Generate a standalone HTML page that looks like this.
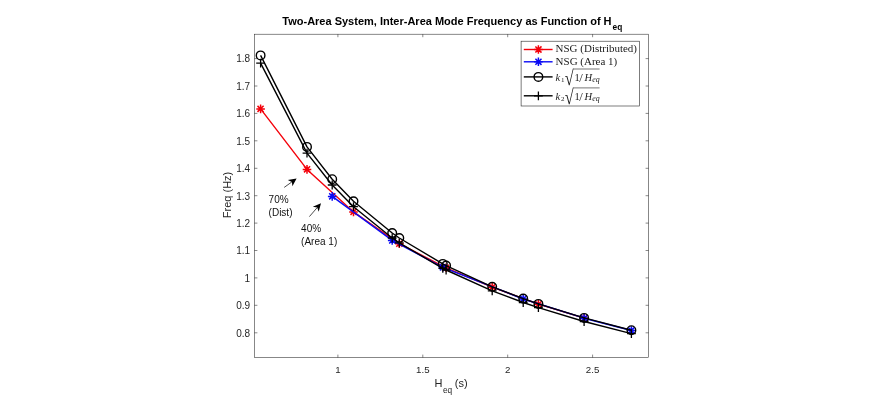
<!DOCTYPE html>
<html><head><meta charset="utf-8"><title>Two-Area System</title>
<style>html,body{margin:0;padding:0;background:#fff}svg{display:block;filter:blur(0.45px)}text{font-family:"Liberation Sans",Arial,sans-serif}.s{font-family:"Liberation Serif","DejaVu Serif",serif}</style></head>
<body>
<svg width="882" height="401" viewBox="0 0 882 401">
<rect width="882" height="401" fill="#fff"/>
<rect x="254.4" y="34.2" width="394.2" height="323.4" stroke="#262626" stroke-width="0.55" fill="none"/>
<path d="M337.9 357.6v-3.0M337.9 34.2v3.0M422.8 357.6v-3.0M422.8 34.2v3.0M507.7 357.6v-3.0M507.7 34.2v3.0M592.6 357.6v-3.0M592.6 34.2v3.0M254.4 332.8h3.0M648.6 332.8h-3.0M254.4 305.3h3.0M648.6 305.3h-3.0M254.4 277.9h3.0M648.6 277.9h-3.0M254.4 250.5h3.0M648.6 250.5h-3.0M254.4 223.1h3.0M648.6 223.1h-3.0M254.4 195.7h3.0M648.6 195.7h-3.0M254.4 168.3h3.0M648.6 168.3h-3.0M254.4 140.8h3.0M648.6 140.8h-3.0M254.4 113.4h3.0M648.6 113.4h-3.0M254.4 86.0h3.0M648.6 86.0h-3.0M254.4 58.6h3.0M648.6 58.6h-3.0" stroke="#262626" stroke-width="0.55" fill="none"/>
<g font-size="9.7" fill="#262626">
<text x="337.9" y="372.7" text-anchor="middle">1</text>
<text x="422.8" y="372.7" text-anchor="middle">1.5</text>
<text x="507.7" y="372.7" text-anchor="middle">2</text>
<text x="592.6" y="372.7" text-anchor="middle">2.5</text>
<text x="250.1" y="336.6" text-anchor="end" font-size="10">0.8</text>
<text x="250.1" y="309.1" text-anchor="end" font-size="10">0.9</text>
<text x="250.1" y="281.7" text-anchor="end" font-size="10">1</text>
<text x="250.1" y="254.3" text-anchor="end" font-size="10">1.1</text>
<text x="250.1" y="226.9" text-anchor="end" font-size="10">1.2</text>
<text x="250.1" y="199.5" text-anchor="end" font-size="10">1.3</text>
<text x="250.1" y="172.1" text-anchor="end" font-size="10">1.4</text>
<text x="250.1" y="144.6" text-anchor="end" font-size="10">1.5</text>
<text x="250.1" y="117.2" text-anchor="end" font-size="10">1.6</text>
<text x="250.1" y="89.8" text-anchor="end" font-size="10">1.7</text>
<text x="250.1" y="62.4" text-anchor="end" font-size="10">1.8</text>
</g>
<text x="282.3" y="25" font-size="11" font-weight="bold" fill="#000">Two-Area System, Inter-Area Mode Frequency as Function of H<tspan font-size="8.3" dx="1" dy="5.4">eq</tspan></text>
<text x="434.4" y="387.1" font-size="11" fill="#262626">H<tspan font-size="8.3" dx="0.6" dy="5.6">eq</tspan><tspan dy="-5.6" dx="2.6">(s)</tspan></text>
<text transform="translate(230.7 218.2) rotate(-90)" font-size="11" fill="#262626">Freq (Hz)</text>
<polyline points="260.6,108.9 307.0,169.4 353.5,211.9 399.3,243.7 446.1,267.8 492.2,287.2 538.4,304.2 584.1,318.2" fill="none" stroke="#f4000a" stroke-width="1.4" stroke-linejoin="round"/>
<path d="M256.3 108.9h8.6M260.6 104.6v8.6M257.5 105.9l6.1 6.1M257.5 111.9l6.1 -6.1" stroke="#f4000a" stroke-width="1.5" fill="none"/>
<path d="M302.7 169.4h8.6M307.0 165.1v8.6M304.0 166.3l6.1 6.1M304.0 172.4l6.1 -6.1" stroke="#f4000a" stroke-width="1.5" fill="none"/>
<path d="M349.2 211.9h8.6M353.5 207.6v8.6M350.5 208.9l6.1 6.1M350.5 214.9l6.1 -6.1" stroke="#f4000a" stroke-width="1.5" fill="none"/>
<path d="M395.0 243.7h8.6M399.3 239.4v8.6M396.3 240.7l6.1 6.1M396.3 246.7l6.1 -6.1" stroke="#f4000a" stroke-width="1.5" fill="none"/>
<path d="M441.8 267.8h8.6M446.1 263.5v8.6M443.0 264.8l6.1 6.1M443.0 270.8l6.1 -6.1" stroke="#f4000a" stroke-width="1.5" fill="none"/>
<path d="M487.9 287.2h8.6M492.2 282.9v8.6M489.2 284.1l6.1 6.1M489.2 290.2l6.1 -6.1" stroke="#f4000a" stroke-width="1.5" fill="none"/>
<path d="M534.1 304.2h8.6M538.4 299.9v8.6M535.4 301.2l6.1 6.1M535.4 307.3l6.1 -6.1" stroke="#f4000a" stroke-width="1.5" fill="none"/>
<path d="M579.8 318.2h8.6M584.1 313.9v8.6M581.1 315.2l6.1 6.1M581.1 321.3l6.1 -6.1" stroke="#f4000a" stroke-width="1.5" fill="none"/>
<polyline points="332.2,196.4 392.2,240.4 442.8,267.3 523.2,299.0 584.1,318.2 631.4,330.5" fill="none" stroke="#0a0af4" stroke-width="1.4" stroke-linejoin="round"/>
<path d="M327.9 196.4h8.6M332.2 192.1v8.6M329.2 193.3l6.1 6.1M329.2 199.4l6.1 -6.1" stroke="#0a0af4" stroke-width="1.5" fill="none"/>
<path d="M387.9 240.4h8.6M392.2 236.1v8.6M389.2 237.4l6.1 6.1M389.2 243.5l6.1 -6.1" stroke="#0a0af4" stroke-width="1.5" fill="none"/>
<path d="M438.5 267.3h8.6M442.8 263.0v8.6M439.8 264.3l6.1 6.1M439.8 270.4l6.1 -6.1" stroke="#0a0af4" stroke-width="1.5" fill="none"/>
<path d="M518.9 299.0h8.6M523.2 294.7v8.6M520.2 295.9l6.1 6.1M520.2 302.0l6.1 -6.1" stroke="#0a0af4" stroke-width="1.5" fill="none"/>
<path d="M579.8 318.2h8.6M584.1 313.9v8.6M581.1 315.2l6.1 6.1M581.1 321.3l6.1 -6.1" stroke="#0a0af4" stroke-width="1.5" fill="none"/>
<path d="M627.1 330.5h8.6M631.4 326.2v8.6M628.4 327.5l6.1 6.1M628.4 333.5l6.1 -6.1" stroke="#0a0af4" stroke-width="1.5" fill="none"/>
<polyline points="260.6,55.4 307.0,146.9 332.2,179.2 353.5,201.3 392.2,233.0 399.3,238.0 442.8,263.9 446.1,265.6 492.2,286.8 523.2,298.6 538.4,303.9 584.1,317.9 631.4,330.2" fill="none" stroke="#000" stroke-width="1.4" stroke-linejoin="round"/>
<circle cx="260.6" cy="55.4" r="4.3" stroke="#000" stroke-width="1.4" fill="none"/>
<circle cx="307.0" cy="146.9" r="4.3" stroke="#000" stroke-width="1.4" fill="none"/>
<circle cx="332.2" cy="179.2" r="4.3" stroke="#000" stroke-width="1.4" fill="none"/>
<circle cx="353.5" cy="201.3" r="4.3" stroke="#000" stroke-width="1.4" fill="none"/>
<circle cx="392.2" cy="233.0" r="4.3" stroke="#000" stroke-width="1.4" fill="none"/>
<circle cx="399.3" cy="238.0" r="4.3" stroke="#000" stroke-width="1.4" fill="none"/>
<circle cx="442.8" cy="263.9" r="4.3" stroke="#000" stroke-width="1.4" fill="none"/>
<circle cx="446.1" cy="265.6" r="4.3" stroke="#000" stroke-width="1.4" fill="none"/>
<circle cx="492.2" cy="286.8" r="4.3" stroke="#000" stroke-width="1.4" fill="none"/>
<circle cx="523.2" cy="298.6" r="4.3" stroke="#000" stroke-width="1.4" fill="none"/>
<circle cx="538.4" cy="303.9" r="4.3" stroke="#000" stroke-width="1.4" fill="none"/>
<circle cx="584.1" cy="317.9" r="4.3" stroke="#000" stroke-width="1.4" fill="none"/>
<circle cx="631.4" cy="330.2" r="4.3" stroke="#000" stroke-width="1.4" fill="none"/>
<polyline points="260.6,63.1 307.0,153.1 332.2,185.0 353.5,206.7 392.2,238.0 399.3,242.8 442.8,268.4 446.1,270.0 492.2,290.8 523.2,302.5 538.4,307.7 584.1,321.5 631.4,333.6" fill="none" stroke="#000" stroke-width="1.4" stroke-linejoin="round"/>
<path d="M256.2 63.1h8.8M260.6 58.7v8.8" stroke="#000" stroke-width="1.3" fill="none"/>
<path d="M302.6 153.1h8.8M307.0 148.7v8.8" stroke="#000" stroke-width="1.3" fill="none"/>
<path d="M327.8 185.0h8.8M332.2 180.6v8.8" stroke="#000" stroke-width="1.3" fill="none"/>
<path d="M349.1 206.7h8.8M353.5 202.3v8.8" stroke="#000" stroke-width="1.3" fill="none"/>
<path d="M387.8 238.0h8.8M392.2 233.6v8.8" stroke="#000" stroke-width="1.3" fill="none"/>
<path d="M394.9 242.8h8.8M399.3 238.4v8.8" stroke="#000" stroke-width="1.3" fill="none"/>
<path d="M438.4 268.4h8.8M442.8 264.0v8.8" stroke="#000" stroke-width="1.3" fill="none"/>
<path d="M441.7 270.0h8.8M446.1 265.6v8.8" stroke="#000" stroke-width="1.3" fill="none"/>
<path d="M487.8 290.8h8.8M492.2 286.4v8.8" stroke="#000" stroke-width="1.3" fill="none"/>
<path d="M518.8 302.5h8.8M523.2 298.1v8.8" stroke="#000" stroke-width="1.3" fill="none"/>
<path d="M534.0 307.7h8.8M538.4 303.3v8.8" stroke="#000" stroke-width="1.3" fill="none"/>
<path d="M579.7 321.5h8.8M584.1 317.1v8.8" stroke="#000" stroke-width="1.3" fill="none"/>
<path d="M627.0 333.6h8.8M631.4 329.2v8.8" stroke="#000" stroke-width="1.3" fill="none"/>
<path d="M284.2 187.4L291.9 181.9" stroke="#000" stroke-width="0.7" fill="none"/>
<path d="M296.6 178.5L292.4 186.3L291.9 181.9L287.8 180.0Z" fill="#000"/>
<path d="M309.4 216.6L317.2 207.6" stroke="#000" stroke-width="0.7" fill="none"/>
<path d="M321.0 203.2L318.7 211.8L317.2 207.6L312.8 206.7Z" fill="#000"/>
<g font-size="10" fill="#111">
<text x="268.6" y="203.3">70%</text><text x="268.6" y="216.3">(Dist)</text>
<text x="301.1" y="232">40%</text><text x="301.1" y="244.8">(Area 1)</text>
</g>
<rect x="521.1" y="41.2" width="118.6" height="64.8" fill="#fff" stroke="#262626" stroke-width="0.6"/>
<path d="M523.8 49.5H552.6" stroke="#f4000a" stroke-width="1.4"/>
<path d="M534.1 49.5h8.6M538.4 45.2v8.6M535.4 46.5l6.1 6.1M535.4 52.5l6.1 -6.1" stroke="#f4000a" stroke-width="1.5" fill="none"/>
<path d="M523.8 61.8H552.6" stroke="#0a0af4" stroke-width="1.4"/>
<path d="M534.1 61.8h8.6M538.4 57.5v8.6M535.4 58.8l6.1 6.1M535.4 64.8l6.1 -6.1" stroke="#0a0af4" stroke-width="1.5" fill="none"/>
<path d="M523.8 76.9H552.6" stroke="#000" stroke-width="1.4"/>
<circle cx="538.4" cy="76.9" r="4.3" stroke="#000" stroke-width="1.4" fill="none"/>
<path d="M523.8 95.8H552.6" stroke="#000" stroke-width="1.4"/>
<path d="M534.0 95.8h8.8M538.4 91.4v8.8" stroke="#000" stroke-width="1.3" fill="none"/>
<g class="s" font-size="9.7" fill="#1a1a1a">
<text class="s" x="555.6" y="52.2" textLength="81.4" lengthAdjust="spacingAndGlyphs">NSG (Distributed)</text>
<text class="s" x="555.6" y="64.5" textLength="61.6" lengthAdjust="spacingAndGlyphs">NSG (Area 1)</text>
<text class="s" x="555.4" y="80.8" font-style="italic" font-size="10.5">k</text>
<text class="s" x="561" y="82.3" font-size="7">1</text>
<text class="s" transform="translate(564.7 85.3) scale(1.62 2.09)" font-size="10">√</text>
<path d="M573.3 69.0H599.6" stroke="#1a1a1a" stroke-width="0.6"/>
<text class="s" x="574.6" y="80.8" font-size="10.5">1</text>
<text class="s" x="579.2" y="82.4" font-size="12.5">/</text>
<text class="s" x="584.4" y="80.8" font-size="10" font-style="italic" textLength="7.6" lengthAdjust="spacingAndGlyphs">H</text>
<text class="s" x="592.2" y="82.3" font-size="7.4" font-style="italic" textLength="7.4" lengthAdjust="spacingAndGlyphs">eq</text>
<text class="s" x="555.4" y="99.7" font-style="italic" font-size="10.5">k</text>
<text class="s" x="561" y="101.2" font-size="7">2</text>
<text class="s" transform="translate(564.7 104.2) scale(1.62 2.09)" font-size="10">√</text>
<path d="M573.3 87.9H599.6" stroke="#1a1a1a" stroke-width="0.6"/>
<text class="s" x="574.6" y="99.7" font-size="10.5">1</text>
<text class="s" x="579.2" y="101.3" font-size="12.5">/</text>
<text class="s" x="584.4" y="99.7" font-size="10" font-style="italic" textLength="7.6" lengthAdjust="spacingAndGlyphs">H</text>
<text class="s" x="592.2" y="101.2" font-size="7.4" font-style="italic" textLength="7.4" lengthAdjust="spacingAndGlyphs">eq</text>
</g>
</svg>
</body></html>
